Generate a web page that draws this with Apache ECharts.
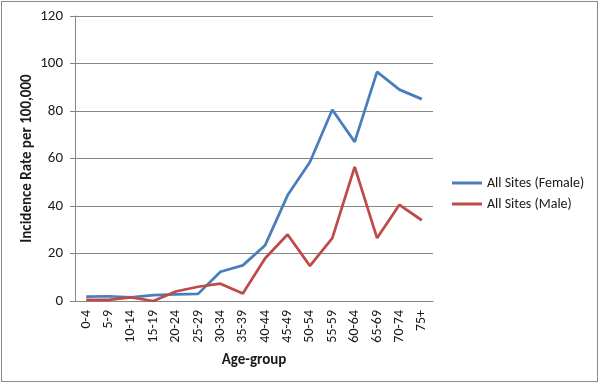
<!DOCTYPE html>
<html>
<head>
<meta charset="utf-8">
<script src="https://cdn.jsdelivr.net/npm/echarts@6/dist/echarts.min.js"></script>
<style>
  html, body { margin: 0; padding: 0; background: #fff; }
  #frame {
    position: absolute; left: 1px; top: 1px; width: 597px; height: 381px;
    border: 1px solid #8a8a8a; box-sizing: border-box;
  }
  #chart { position: absolute; left: 0; top: 0; width: 600px; height: 383px; }
</style>
</head>
<body>
<div id="chart"></div>
<div id="frame"></div>
<script>
const ageGroups = ["0-4", "5-9", "10-14", "15-19", "20-24", "25-29", "30-34", "35-39",
  "40-44", "45-49", "50-54", "55-59", "60-64", "65-69", "70-74", "75+"];
const femaleRates = [1.8, 2.0, 1.5, 2.5, 2.8, 3.0, 12.3, 15.0, 23.5, 44.5, 58.5, 80.5, 67.0, 96.5, 89.0, 85.0];
const maleRates = [0.5, 0.5, 1.5, 0.0, 4.0, 6.0, 7.3, 3.2, 18.0, 28.0, 14.8, 26.5, 56.5, 26.5, 40.5, 34.0];
const yTicks = [0, 20, 40, 60, 80, 100, 120];

const font = "Carlito, 'Liberation Sans', 'Open Sans', sans-serif";
const axisGray = "#868686";
const ink = "#1a1a1a";

const chart = echarts.init(document.getElementById("chart"), undefined, { renderer: "canvas" });
chart.setOption({
  animation: false,
  textStyle: { fontFamily: font },
  grid: { left: 75, right: 167, top: 16, bottom: 82 },
  legend: {
    orient: "vertical",
    left: 447,
    top: 171,
    icon: "rect",
    itemWidth: 30,
    itemHeight: 3,
    itemGap: 7,
    textStyle: { fontFamily: font, fontSize: 14, color: ink },
    data: ["All Sites (Female)", "All Sites (Male)"],
  },
  xAxis: {
    type: "category",
    data: ageGroups,
    boundaryGap: true,
    name: "Age-group",
    nameLocation: "middle",
    nameGap: 52,
    nameTextStyle: { fontFamily: font, fontSize: 15, fontWeight: "bold", color: ink },
    axisLine: { lineStyle: { color: axisGray } },
    axisTick: { alignWithLabel: false, length: 5, lineStyle: { color: axisGray } },
    axisLabel: { rotate: 90, fontSize: 14, color: ink, margin: 9, interval: 0 },
    splitLine: { show: false },
  },
  yAxis: {
    type: "value",
    min: yTicks[0],
    max: yTicks[yTicks.length - 1],
    interval: 20,
    name: "Incidence Rate per 100,000",
    nameLocation: "middle",
    nameGap: 40,
    nameMoveOverlap: false,
    nameTextStyle: { fontFamily: font, fontSize: 15, fontWeight: "bold", color: ink },
    axisLine: { show: true, lineStyle: { color: axisGray } },
    axisTick: { show: true, length: 5, lineStyle: { color: axisGray } },
    axisLabel: { fontSize: 15, color: ink, margin: 12 },
    splitLine: { lineStyle: { color: axisGray, width: 1 } },
  },
  series: [
    {
      name: "All Sites (Female)",
      type: "line",
      data: femaleRates,
      symbol: "none",
      lineStyle: { color: "#4a7ebb", width: 2.75 },
      itemStyle: { color: "#4a7ebb" },
    },
    {
      name: "All Sites (Male)",
      type: "line",
      data: maleRates,
      symbol: "none",
      lineStyle: { color: "#be4b48", width: 2.75 },
      itemStyle: { color: "#be4b48" },
    },
  ],
});
</script>
</body>
</html>
